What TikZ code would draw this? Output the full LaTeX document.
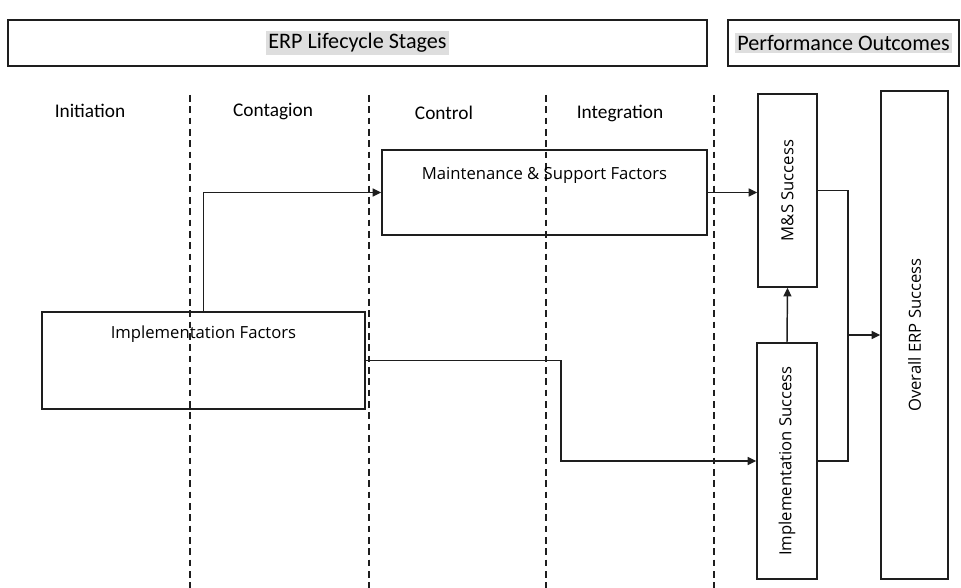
\documentclass[tikz,border=0pt]{standalone}
\usepackage{fontspec}
\setmainfont{Open Sans}
\newfontfamily\calib{Carlito}
\usepackage{graphicx}
\usepackage{xcolor}
\usepackage{tikz}
\usetikzlibrary{arrows.meta, positioning, calc}
\definecolor{lineGray}{RGB}{30, 30, 30}
\definecolor{hlGray}{RGB}{222, 222, 222}
\newcommand{\hlText}[1]{{\setlength{\fboxsep}{1.5pt}\colorbox{hlGray}{#1}}}

\begin{document}
\begin{tikzpicture}[x=0.75pt, y=-0.75pt,
    box/.style={draw=lineGray, line width=1.1pt, fill=none, inner sep=0pt, align=center},
    hdr/.style={box, minimum height=34.5pt, font=\calib\fontsize{16.6}{19}\selectfont},
    stage/.style={font=\calib\fontsize{14.5}{17}\selectfont, inner sep=0pt},
    factor/.style={box, font=\fontsize{12.5}{15}\selectfont},
    outcome/.style={box, font=\fontsize{12.5}{15}\selectfont},
    arr/.style={-{Triangle[length=6.5pt, width=6pt]}, line width=1.1pt, draw=lineGray},
    lnk/.style={line width=1.1pt, draw=lineGray},
    sep/.style={line width=0.9pt, draw=lineGray, dash pattern=on 5pt off 3.5pt}]
    \useasboundingbox (0,0) rectangle (961,588);

    % Headers
    \node[hdr, minimum width=524.25pt] (hdrStages) at (357.5,43) {\hlText{ERP Lifecycle Stages}};
    \node[hdr, minimum width=173.25pt] (hdrOutcomes) at (843.5,43) {\hlText{Performance Outcomes}};

    % Stage separators
    \foreach \sx in {190, 369, 546, 714}
        \draw[sep] (\sx,95) -- (\sx,588);

    % Stage names
    \node[stage] (stInit) at (90,111) {Initiation};
    \node[stage] (stCont) at (273,112) {Contagion};
    \node[stage] (stCtrl) at (444,113) {Control};
    \node[stage] (stInteg) at (620,113) {Integration};

    % Factor boxes
    \node[factor, minimum width=243.75pt, text height=22pt, text depth=41.75pt] (maint) at (544.5,192.5) {Maintenance \& Support Factors};
    \node[factor, minimum width=242.25pt, text height=20pt, text depth=52.75pt] (implF) at (203.5,360.5) {Implementation Factors};

    % Outcome boxes
    \node[outcome, minimum width=44.25pt, minimum height=144.75pt] (msS) at (787.5,190.5) {\rotatebox{90}{M\&S Success}};
    \node[outcome, minimum width=45pt, minimum height=177pt] (implS) at (787,461) {\rotatebox{90}{Implementation Success}};
    \node[outcome, minimum width=50.25pt, minimum height=366pt] (erpS) at (914.5,335) {\rotatebox{90}{Overall ERP Success}};

    % Connectors
    \coordinate (jogImpl) at (561,461);
    \coordinate (joinOut) at (848,335);
    \draw[arr] (implF.north) |- (maint.west);
    \draw[arr] (maint.east) -- (maint.east -| msS.west);
    \draw[arr] (implF.east) -| (jogImpl) -- (implS.west);
    \draw[arr] (implS.north) -- (msS.south);
    \draw[lnk] (msS.east) -| (joinOut);
    \draw[lnk] (implS.east) -| (joinOut);
    \draw[arr] (joinOut) -- (erpS.west);
\end{tikzpicture}
\end{document}
